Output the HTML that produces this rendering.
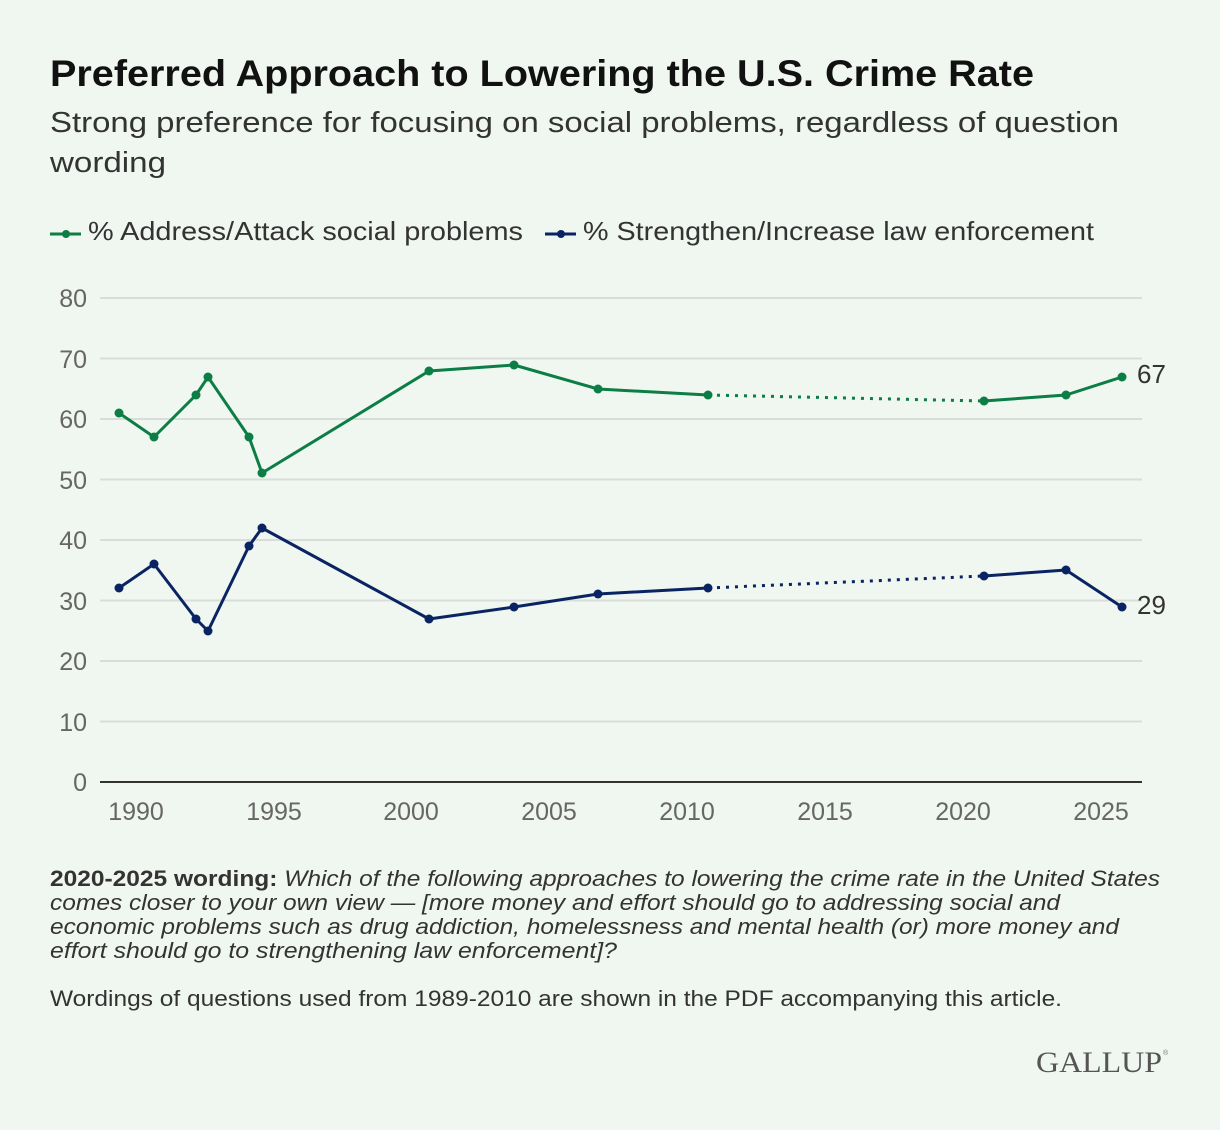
<!DOCTYPE html>
<html><head><meta charset="utf-8"><style>
html,body{margin:0;padding:0;background:#f0f6f0;}
svg{display:block;font-family:"Liberation Sans",sans-serif;}
</style></head><body>
<svg width="1220" height="1130" viewBox="0 0 1220 1130" xmlns="http://www.w3.org/2000/svg">
<rect width="1220" height="1130" fill="#f0f6f0"/>
<text x="50" y="86" font-size="37" font-weight="bold" fill="#111" textLength="984" lengthAdjust="spacingAndGlyphs">Preferred Approach to Lowering the U.S. Crime Rate</text>
<text x="50" y="132" font-size="29" fill="#333" textLength="1069" lengthAdjust="spacingAndGlyphs">Strong preference for focusing on social problems, regardless of question</text>
<text x="50" y="172" font-size="29" fill="#333" textLength="116" lengthAdjust="spacingAndGlyphs">wording</text>
<g>
<line x1="50" y1="234" x2="81" y2="234" stroke="#0b7d45" stroke-width="3"/><circle cx="66" cy="234" r="4" fill="#0b7d45"/>
<text x="88" y="240" font-size="26" fill="#333" textLength="435" lengthAdjust="spacingAndGlyphs">% Address/Attack social problems</text>
<line x1="545" y1="234" x2="576" y2="234" stroke="#0a2463" stroke-width="3"/><circle cx="561" cy="234" r="4" fill="#0a2463"/>
<text x="583" y="240" font-size="26" fill="#333" textLength="511" lengthAdjust="spacingAndGlyphs">% Strengthen/Increase law enforcement</text>
</g>
<g stroke="#d9ddd9" stroke-width="2">
<line x1="100" y1="298" x2="1142" y2="298"/><line x1="100" y1="358.5" x2="1142" y2="358.5"/>
<line x1="100" y1="419" x2="1142" y2="419"/><line x1="100" y1="479.5" x2="1142" y2="479.5"/>
<line x1="100" y1="540" x2="1142" y2="540"/><line x1="100" y1="600.5" x2="1142" y2="600.5"/>
<line x1="100" y1="661" x2="1142" y2="661"/><line x1="100" y1="721.5" x2="1142" y2="721.5"/>
</g>
<line x1="100" y1="782" x2="1142" y2="782" stroke="#333" stroke-width="2"/>
<g font-size="25" fill="#666" text-anchor="end">
<text x="87" y="307">80</text><text x="87" y="368">70</text><text x="87" y="428">60</text><text x="87" y="489">50</text>
<text x="87" y="549">40</text><text x="87" y="610">30</text><text x="87" y="670">20</text><text x="87" y="731">10</text><text x="87" y="791">0</text>
</g>
<g font-size="25" fill="#666" text-anchor="middle">
<text x="136" y="820">1990</text><text x="274" y="820">1995</text><text x="411" y="820">2000</text><text x="549" y="820">2005</text>
<text x="687" y="820">2010</text><text x="825" y="820">2015</text><text x="963" y="820">2020</text><text x="1101" y="820">2025</text>
</g>
<g fill="none" stroke-width="3" stroke-linejoin="round">
<polyline stroke="#0b7d45" points="119,413 154,437 196,395 208,377 249,437 262,473 429,371 514,365 598,389 708,395"/>
<polyline stroke="#0b7d45" stroke-dasharray="3,6" points="708,395 984,401"/>
<polyline stroke="#0b7d45" points="984,401 1066,395 1122,377"/>
<polyline stroke="#0a2463" points="119,588 154,564 196,619 208,631 249,546 262,528 429,619 514,607 598,594 708,588"/>
<polyline stroke="#0a2463" stroke-dasharray="3,6" points="708,588 984,576"/>
<polyline stroke="#0a2463" points="984,576 1066,570 1122,607"/>
</g>
<g fill="#0b7d45">
<circle cx="119" cy="413" r="4.5"/><circle cx="154" cy="437" r="4.5"/><circle cx="196" cy="395" r="4.5"/><circle cx="208" cy="377" r="4.5"/><circle cx="249" cy="437" r="4.5"/><circle cx="262" cy="473" r="4.5"/><circle cx="429" cy="371" r="4.5"/><circle cx="514" cy="365" r="4.5"/><circle cx="598" cy="389" r="4.5"/><circle cx="708" cy="395" r="4.5"/><circle cx="984" cy="401" r="4.5"/><circle cx="1066" cy="395" r="4.5"/><circle cx="1122" cy="377" r="4.5"/>
</g>
<g fill="#0a2463">
<circle cx="119" cy="588" r="4.5"/><circle cx="154" cy="564" r="4.5"/><circle cx="196" cy="619" r="4.5"/><circle cx="208" cy="631" r="4.5"/><circle cx="249" cy="546" r="4.5"/><circle cx="262" cy="528" r="4.5"/><circle cx="429" cy="619" r="4.5"/><circle cx="514" cy="607" r="4.5"/><circle cx="598" cy="594" r="4.5"/><circle cx="708" cy="588" r="4.5"/><circle cx="984" cy="576" r="4.5"/><circle cx="1066" cy="570" r="4.5"/><circle cx="1122" cy="607" r="4.5"/>
</g>
<text x="1137" y="383" font-size="26" fill="#333">67</text>
<text x="1137" y="614" font-size="26" fill="#333">29</text>
<g font-size="22" fill="#333">
<text x="50" y="886" textLength="1110" lengthAdjust="spacingAndGlyphs"><tspan font-weight="bold">2020-2025 wording:</tspan> <tspan font-style="italic">Which of the following approaches to lowering the crime rate in the United States</tspan></text>
<text x="50" y="910" font-style="italic" textLength="1010" lengthAdjust="spacingAndGlyphs">comes closer to your own view — [more money and effort should go to addressing social and</text>
<text x="50" y="934" font-style="italic" textLength="1069" lengthAdjust="spacingAndGlyphs">economic problems such as drug addiction, homelessness and mental health (or) more money and</text>
<text x="50" y="958" font-style="italic" textLength="567" lengthAdjust="spacingAndGlyphs">effort should go to strengthening law enforcement]?</text>
<text x="50" y="1006" textLength="1012" lengthAdjust="spacingAndGlyphs">Wordings of questions used from 1989-2010 are shown in the PDF accompanying this article.</text>
</g>
<text x="1036" y="1072" font-family="Liberation Serif,serif" font-size="30" fill="#555" textLength="126" lengthAdjust="spacingAndGlyphs">GALLUP</text>
<text x="1163" y="1055" font-size="7" fill="#777">®</text>
</svg>
</body></html>
